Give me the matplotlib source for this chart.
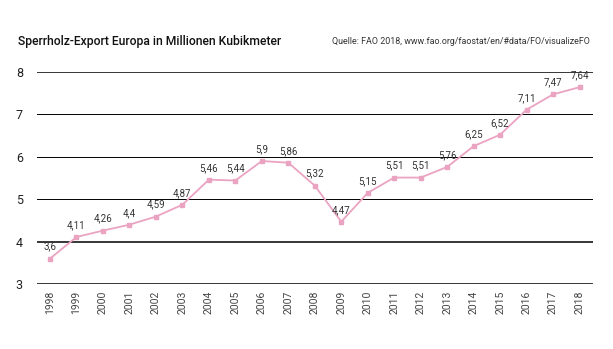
import matplotlib
matplotlib.use("Agg")
import matplotlib.pyplot as plt

plt.rcParams['font.family'] = ['Roboto', 'DejaVu Sans']

years = [str(y) for y in range(1998, 2019)]
values = [3.6, 4.11, 4.26, 4.4, 4.59, 4.87, 5.46, 5.44, 5.9, 5.86, 5.32,
          4.47, 5.15, 5.51, 5.51, 5.76, 6.25, 6.52, 7.11, 7.47, 7.64]
labels = [f"{v:g}".replace(".", ",") for v in values]
y_ticks = [3, 4, 5, 6, 7, 8]

fig = plt.figure(figsize=(6.13, 3.49), dpi=100)
ax = fig.add_axes([0.060, 0.186, 0.907, 0.608])

# gridlines, 8/4/3 slightly heavier like the original
for t in y_ticks:
    lw = 1.1 if t in (3, 4, 8) else 0.7
    ax.axhline(t, color='black', lw=lw, zorder=1)

x = list(range(len(years)))
ax.plot(x, values, color='#eba3c2', lw=1.3, marker='s', markersize=3.5,
        zorder=3, clip_on=False)

for xi, v, lab in zip(x, values, labels):
    ax.annotate(lab, (xi, v), xytext=(0, 5), textcoords='offset points',
                ha='center', va='bottom', fontsize=7, color='#333333')

ax.set_xlim(-0.5, len(years) - 0.5)
ax.set_ylim(3, 8)
ax.set_yticks(y_ticks)
ax.set_xticks(x)
ax.set_xticklabels(years, rotation=90, fontsize=7.5, color='#444444')
ax.tick_params(axis='y', length=0, labelsize=9, pad=10, colors='#222222')
ax.tick_params(axis='x', length=0, pad=5)
for s in ax.spines.values():
    s.set_visible(False)

fig.text(0.029, 0.88, "Sperrholz-Export Europa in Millionen Kubikmeter",
         fontsize=8.7, fontweight='medium', color='#111111', va='center')
fig.text(0.963, 0.88, "Quelle: FAO 2018, www.fao.org/faostat/en/#data/FO/visualizeFO",
         fontsize=6.4, color='#333333', ha='right', va='center')

fig.savefig("out.png", dpi=100)
